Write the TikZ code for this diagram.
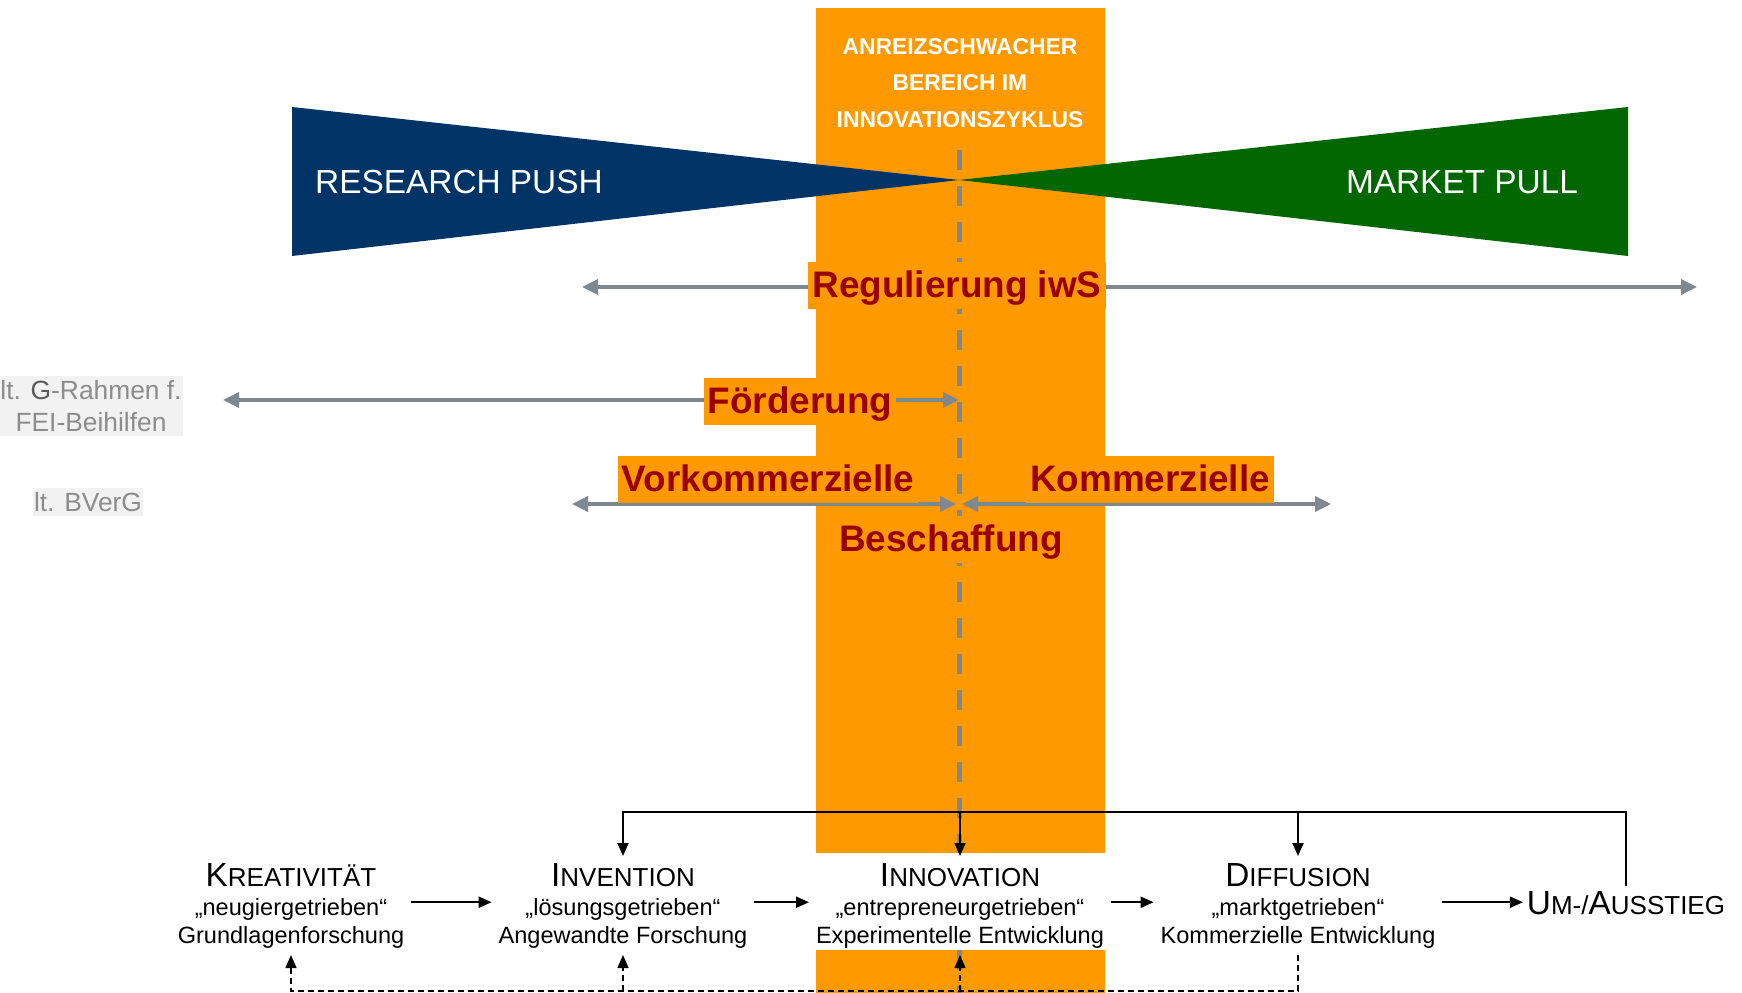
\documentclass[tikz,border=0pt]{standalone}
\usepackage{fontspec}
\setmainfont{Liberation Sans}
\usetikzlibrary{arrows.meta, positioning}
\definecolor{bandorange}{HTML}{FF9900}
\definecolor{pushblue}{HTML}{003366}
\definecolor{pullgreen}{HTML}{006600}
\definecolor{instrred}{HTML}{990000}
\definecolor{rangegray}{HTML}{7F878F}
\definecolor{notegray}{HTML}{8C8C8C}
\definecolor{notedark}{HTML}{595959}
\definecolor{notebg}{HTML}{F2F2F2}
\newcommand{\capsc}[2]{{\rule{0pt}{6.8pt}\fontsize{9.5}{9.5}\selectfont #1}{\fontsize{7.4}{7.4}\selectfont #2}}

\begin{document}
\begin{tikzpicture}[x=0.1mm, y=-0.1mm,
  instr/.style={fill=bandorange, text=instrred, font=\fontsize{10.5}{12}\selectfont\bfseries, inner xsep=0.4mm, inner ysep=0.2mm, text height=3.4mm, text depth=0.9mm, anchor=base},
  rangearrow/.style={rangegray, line width=0.35mm, {Triangle[length=1.6mm,width=1.5mm]}-{Triangle[length=1.6mm,width=1.5mm]}},
  sidenote/.style={fill=notebg, text=notegray, font=\fontsize{7.5}{9.1}\selectfont, align=center, inner xsep=0.1mm, inner ysep=0.4mm},
  stage/.style={align=center, font=\fontsize{6.7}{8}\selectfont, inner sep=0.3mm, outer sep=0.4mm, anchor=north},
  flow/.style={line width=0.2mm, -{Triangle[length=1.3mm,width=1.1mm]}},
  loopback/.style={line width=0.15mm, dash pattern=on 0.6mm off 0.4mm, -{Triangle[length=1.3mm,width=1.1mm]}},
]
  \useasboundingbox (0,0) rectangle (1742,993);

  % Orange band (interrupted behind the innovation stage)
  \fill[bandorange] (816,8) rectangle (1105,853);
  \fill[bandorange] (816,950) rectangle (1105,993);

  % Push and pull wedges
  \fill[pushblue] (292,107) -- (959,180) -- (292,256) -- cycle;
  \fill[pullgreen] (1628,107) -- (959,180) -- (1628,256) -- cycle;
  \node[white, font=\fontsize{9.5}{11}\selectfont, anchor=base] (push) at (459,194) {RESEARCH PUSH};
  \node[white, font=\fontsize{9.5}{11}\selectfont, anchor=base] (pull) at (1462,194) {MARKET PULL};

  % Middle dashed line
  \draw[rangegray, line width=0.5mm, dash pattern=on 2mm off 1.6mm] (959,150) -- (959,853);
  \draw[rangegray, line width=0.5mm, dash pattern=on 2mm off 1.6mm] (959,950) -- (959,993);

  % Band title
  \node[white, font=\fontsize{6.5}{10.4}\selectfont\bfseries, align=center] (bandtitle) at (960,83) {ANREIZSCHWACHER\\BEREICH IM\\INNOVATIONSZYKLUS};

  % Ranges of the instruments
  \coordinate (regL) at (582,287);
  \coordinate (regR) at (1697,287);
  \coordinate (foerdL) at (223,400);
  \coordinate (foerdR) at (959,400);
  \coordinate (vorkL) at (572,504);
  \coordinate (vorkR) at (956,504);
  \coordinate (kommL) at (962,504);
  \coordinate (kommR) at (1331,504);
  \draw[rangearrow] (regL) -- (regR);
  \draw[rangearrow] (foerdL) -- (foerdR);
  \draw[rangearrow] (vorkL) -- (vorkR);
  \draw[rangearrow] (kommL) -- (kommR);

  \node[instr] (reg) at (957,298) {Regulierung iwS};
  \node[instr] (foerd) at (800,414) {Förderung};
  \node[instr] (vork) at (768,492) {Vorkommerzielle};
  \node[instr] (komm) at (1150,492) {Kommerzielle};
  \node[instr] (besch) at (951,552) {Beschaffung};

  % Side notes
  \node[sidenote] (gnote) at (91,406) {lt. {\color{notedark}G}-Rahmen f.\\FEI-Beihilfen};
  \node[sidenote] (bnote) at (88,502) {lt. BVerG};

  % Stages of the cycle
  \node[stage] (kreat) at (291,856) {\capsc{K}{REATIVITÄT}\\„neugiergetrieben“\\Grundlagenforschung};
  \node[stage] (invent) at (623,856) {\capsc{I}{NVENTION}\\„lösungsgetrieben“\\Angewandte Forschung};
  \node[stage] (innov) at (960,856) {\capsc{I}{NNOVATION}\\„entrepreneurgetrieben“\\Experimentelle Entwicklung};
  \node[stage] (diffus) at (1298,856) {\capsc{D}{IFFUSION}\\„marktgetrieben“\\Kommerzielle Entwicklung};
  \node[font=\fontsize{6.7}{8}\selectfont, inner sep=0.3mm, outer sep=0.1mm, anchor=base] (exitst) at (1626,914) {\capsc{U}{M-/}\capsc{A}{USSTIEG}};

  \draw[flow] (kreat.east |- exitst.west) -- (invent.west |- exitst.west);
  \draw[flow] (invent.east |- exitst.west) -- (innov.west |- exitst.west);
  \draw[flow] (innov.east |- exitst.west) -- (diffus.west |- exitst.west);
  \draw[flow] (diffus.east |- exitst.west) -- (exitst.west);

  % Feedback from exit
  \coordinate (fbline) at (0,812);
  \draw[flow] (exitst.north) -- (exitst.north |- fbline) -- (invent.north |- fbline) -- (invent.north);
  \draw[flow] (innov.north |- fbline) -- (innov.north);
  \draw[flow] (diffus.north |- fbline) -- (diffus.north);

  % Feedback from diffusion
  \coordinate (fbbase) at (0,991);
  \draw[loopback] (diffus.south) -- (diffus.south |- fbbase) -- (kreat.south |- fbbase) -- (kreat.south);
  \draw[loopback] (invent.south |- fbbase) -- (invent.south);
  \draw[loopback] (innov.south |- fbbase) -- (innov.south);
\end{tikzpicture}
\end{document}
